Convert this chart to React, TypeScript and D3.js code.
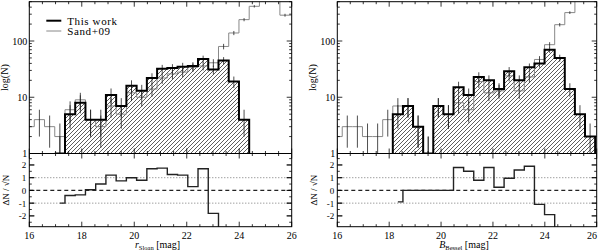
import * as d3 from 'd3';

// bin edges (mag) shared by both panels
const binEdges = [
  15.8, 16.19, 16.58, 16.97, 17.36, 17.75, 18.14, 18.53, 18.92, 19.31, 19.7, 20.09, 20.48, 20.87,
  21.26, 21.65, 22.04, 22.43, 22.82, 23.21, 23.6, 23.99, 24.38, 24.77, 25.16, 25.55, 25.94, 26.33,
];

const _ = null;

// left panel: r_Sloan
const rThisWork = [_, _, _, 1, 5, 8, 4, 4, 11, 7, 16, 13, 22, 32, 33, 35, 36, 48, 31, 45, 19, 4, _, _, _, _, _];
const rSand09 = [3, 4, 3, 2, 6, 9, 4, 3, 7, 5, 12, 10, 14, 22, 26, 28, 34, 36, 41, 80, 139, 240, 414, 900, 900, 288, 288];
const rResid = [_, _, _, -1, -0.4, -0.35, 0.05, 0.5, 1.2, 0.75, 1.0, 0.8, 1.7, 1.75, 1.25, 1.2, 0.3, 1.7, -1.8, -5, _, _, _, _, _, _, _];

// right panel: B_Bessel
const bThisWork = [_, _, _, _, _, _, 5, 7, 3, 1, 7, 5, 15, 11, 23, 20, 14, 29, 20, 34, 40, 70, 50, 14, 5, 2, _];
const bSand09 = [2, 3, 3, 2, 2, 4, 7, 7, 3, 1, 7, 5, 8, 6, 19, 12, 13, 24, 13, 23, 47, 86, 195, 320, 900, 900, 900];
const bResid = [_, _, _, _, _, _, -0.9, 0, 0, 0, 0, 0, 1.8, 1.5, 0.8, 1.8, 0.25, 0.95, 1.6, 1.9, -1.1, -1.9, -5, _, _, _, _];

const xTickLabels = [16, 18, 20, 22, 24, 26];
const logTickLabels = [1, 10, 100];
const residTickLabels = [-2, -1, 0, 1, 2];

const TOP = 1.7;
const MID = 153.5;
const BOT = 226.7;
const FONT = '"Liberation Serif", "DejaVu Serif", serif';

type Vals = (number | null)[];

const Panel = (props: {
  id: string; x0: number; x1: number; thisWork: Vals; sand: Vals; resid: Vals;
  label: string; sub: string; legend?: boolean;
}) => {
  const { id, x0, x1, thisWork, sand, resid } = props;
  const x = d3.scaleLinear().domain([16, 26]).range([x0, x1]);
  const y = d3.scaleLog().domain([1, 500]).range([MID, TOP]);
  const yr = d3.scaleLinear().domain([-2.85, 2.9]).range([BOT, MID]);
  const line = d3.line<[number, number]>();
  const safe = (v: number) => Math.max(v, 0.3);

  // step histogram points for a series
  const steps = (vals: Vals) => {
    const pts: [number, number][] = [];
    vals.forEach((v, i) => {
      if (v == null) return;
      pts.push([x(binEdges[i]), y(safe(v))], [x(binEdges[i + 1]), y(safe(v))]);
    });
    return pts;
  };

  const twPts = steps(thisWork);
  const first = twPts[0];
  const last = twPts[twPts.length - 1];
  const twOutline: [number, number][] = [[first[0], MID], ...twPts, [last[0], MID]];

  // residual drawn IDL psym=10 style: starts/ends at bin centres
  const rPts: [number, number][] = [];
  const rIdx = resid.map((v, i) => (v == null ? -1 : i)).filter(i => i >= 0);
  rIdx.forEach((i, k) => {
    const v = resid[i] as number;
    const xa = k === 0 ? x((binEdges[i] + binEdges[i + 1]) / 2) : x(binEdges[i]);
    const xb = k === rIdx.length - 1 ? x((binEdges[i] + binEdges[i + 1]) / 2) : x(binEdges[i + 1]);
    rPts.push([xa, yr(v)], [xb, yr(v)]);
  });

  const errBars = (vals: Vals) =>
    vals.map((v, i) => {
      if (v == null) return null;
      const cx = x((binEdges[i] + binEdges[i + 1]) / 2);
      const s = Math.sqrt(v);
      return <line key={i} x1={cx} x2={cx} y1={y(safe(v - s))} y2={y(v + s)} stroke="#222" strokeWidth={0.8} />;
    });

  const xMinor = d3.range(16, 26.001, 0.5);
  const logMinor = y.ticks().filter(t => !logTickLabels.includes(t));
  const resMinor = d3.range(-2.5, 2.9, 0.5);

  const tick = (k: string, xa: number, ya: number, xb: number, yb: number) => (
    <line key={k} x1={xa} y1={ya} x2={xb} y2={yb} stroke="#000" strokeWidth={0.8} />
  );

  const ticks: JSX.Element[] = [];
  // x ticks on all horizontal borders
  [TOP, MID, BOT].forEach((yy, j) => {
    xMinor.forEach((t, n) => {
      const len = t % 2 === 0 ? 5 : 2.5;
      if (yy !== TOP) ticks.push(tick(`xu${j}-${n}`, x(t), yy, x(t), yy - len));
      if (yy !== BOT) ticks.push(tick(`xd${j}-${n}`, x(t), yy, x(t), yy + len));
    });
  });
  // log y ticks
  [...logTickLabels, ...logMinor].forEach((t, n) => {
    const len = logTickLabels.includes(t) ? 5 : 2.5;
    ticks.push(tick(`yl${n}`, x0, y(t), x0 + len, y(t)));
    ticks.push(tick(`yr${n}`, x1, y(t), x1 - len, y(t)));
  });
  // residual y ticks
  [...residTickLabels, ...resMinor].forEach((t, n) => {
    const len = Number.isInteger(t) ? 5 : 2.5;
    ticks.push(tick(`rl${n}`, x0, yr(t), x0 + len, yr(t)));
    ticks.push(tick(`rr${n}`, x1, yr(t), x1 - len, yr(t)));
  });

  return (
    <g fontFamily={FONT}>
      <defs>
        <clipPath id={`top-${id}`}><rect x={x0} y={TOP} width={x1 - x0} height={MID - TOP} /></clipPath>
        <clipPath id={`res-${id}`}><rect x={x0} y={MID} width={x1 - x0} height={BOT - MID} /></clipPath>
      </defs>

      <g clipPath={`url(#top-${id})`}>
        <path d={line(twOutline) + 'Z'} fill="url(#hatch)" stroke="none" />
        <path d={line(steps(sand)) ?? ''} fill="none" stroke="#888" strokeWidth={1} />
        {errBars(sand)}
        {errBars(thisWork)}
        <path d={line(twOutline) ?? ''} fill="none" stroke="#000" strokeWidth={2} />
      </g>

      <g clipPath={`url(#res-${id})`}>
        <line x1={x0} x2={x1} y1={yr(1)} y2={yr(1)} stroke="#777" strokeWidth={1} strokeDasharray="1,2" />
        <line x1={x0} x2={x1} y1={yr(-1)} y2={yr(-1)} stroke="#777" strokeWidth={1} strokeDasharray="1,2" />
        <line x1={x0} x2={x1} y1={yr(0)} y2={yr(0)} stroke="#222" strokeWidth={1.3} strokeDasharray="4,3" />
        <path d={line(rPts) ?? ''} fill="none" stroke="#222" strokeWidth={1.4} />
      </g>

      {ticks}
      <rect x={x0} y={TOP} width={x1 - x0} height={BOT - TOP} fill="none" stroke="#000" strokeWidth={1} />
      <line x1={x0} x2={x1} y1={MID} y2={MID} stroke="#000" strokeWidth={1.2} />

      {logTickLabels.map(t => (
        <text key={t} x={x0 - 2} y={y(t) + 3.5} fontSize={10} textAnchor="end">{t}</text>
      ))}
      {residTickLabels.map(t => (
        <text key={t} x={x0 - 3} y={yr(t) + 3.5} fontSize={9} textAnchor="end">{t}</text>
      ))}
      {xTickLabels.map(t => (
        <text key={t} x={Math.min(x(t), 592)} y={238.5} fontSize={10} textAnchor="middle">{t}</text>
      ))}

      <text transform={`translate(${x0 - 21},${(TOP + MID) / 2}) rotate(-90)`} fontSize={10} textAnchor="middle">log(N)</text>
      <text transform={`translate(${x0 - 20},${(MID + BOT) / 2}) rotate(-90)`} fontSize={9} textAnchor="middle">ΔN / √N</text>
      <text x={(x0 + x1) / 2 - 3} y={248} fontSize={10} textAnchor="middle">
        <tspan fontStyle="italic">{props.label}</tspan>
        <tspan fontSize={6.5} dy={2}>{props.sub}</tspan>
        <tspan dy={-2}> [mag]</tspan>
      </text>

      {props.legend && (
        <g>
          <line x1={x0 + 17} x2={x0 + 32} y1={20.7} y2={20.7} stroke="#000" strokeWidth={2} />
          <text x={x0 + 38} y={24.5} fontSize={11} letterSpacing={0.6}>This work</text>
          <line x1={x0 + 17} x2={x0 + 32} y1={31} y2={31} stroke="#888" strokeWidth={1} />
          <text x={x0 + 38} y={35} fontSize={11} letterSpacing={0.6}>Sand+09</text>
        </g>
      )}
    </g>
  );
};

export default function App() {
  return (
    <svg width={600} height={250} style={{ position: 'absolute', left: 0, top: 0, background: '#fff' }}>
      <defs>
        <pattern id="hatch" patternUnits="userSpaceOnUse" width={4} height={4}>
          <path d="M-1,1 l2,-2 M0,4 l4,-4 M3,5 l2,-2" stroke="#333" strokeWidth={0.8} />
        </pattern>
      </defs>
      <rect width={600} height={250} fill="#fff" />
      <Panel id="r" x0={29.3} x1={291.7} thisWork={rThisWork} sand={rSand09} resid={rResid} label="r" sub="Sloan" legend />
      <Panel id="b" x0={337.3} x1={596.7} thisWork={bThisWork} sand={bSand09} resid={bResid} label="B" sub="Bessel" />
    </svg>
  );
}
